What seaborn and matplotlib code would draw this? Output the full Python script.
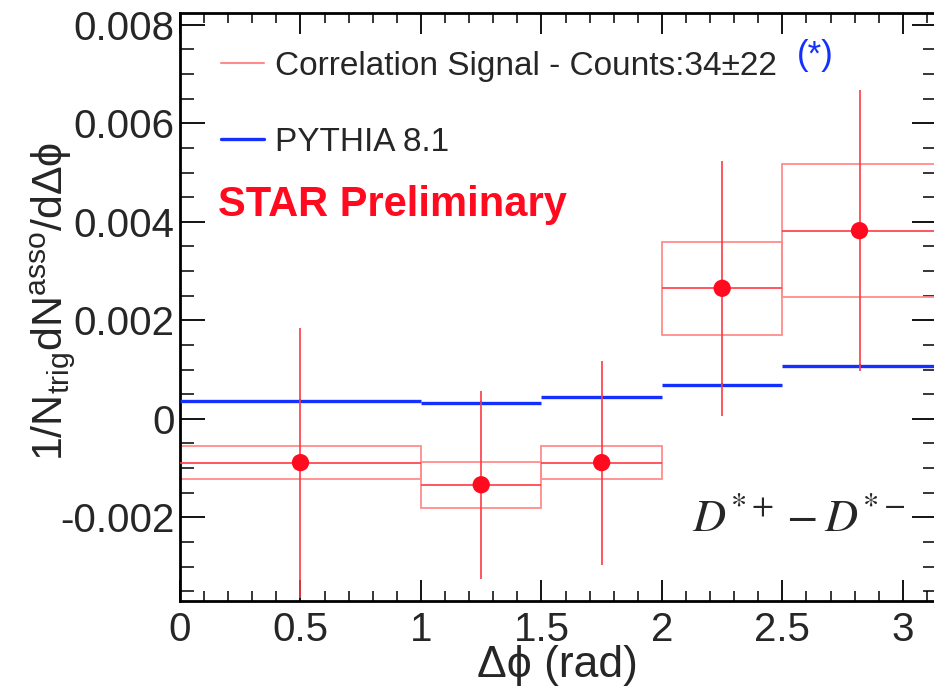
import numpy as np
import matplotlib
matplotlib.use("Agg")
import matplotlib.pyplot as plt
from matplotlib.lines import Line2D
from matplotlib.ticker import MultipleLocator
import seaborn as sns

# ---- data ----
bin_lo = [0.0, 1.0, 1.5, 2.0, 2.5]
bin_hi = [1.0, 1.5, 2.0, 2.5, np.pi]
dphi = [0.5, 1.25, 1.75, 2.25, 2.82]
signal = [-0.00089, -0.00134, -0.00089, 0.00265, 0.00382]
stat_err = [0.00274, 0.00191, 0.00207, 0.00259, 0.00285]
sys_err = [0.00033, 0.00047, 0.00033, 0.00094, 0.00135]
pythia = [0.00037, 0.00033, 0.00044, 0.00069, 0.00107]
pythia_err = [0.00003, 0.00003, 0.00003, 0.00004, 0.00004]

x_ticks = [0, 0.5, 1, 1.5, 2, 2.5, 3]
x_tick_labels = ["0", "0.5", "1", "1.5", "2", "2.5", "3"]
y_ticks = [-0.002, 0, 0.002, 0.004, 0.006, 0.008]
y_tick_labels = ["-0.002", "0", "0.002", "0.004", "0.006", "0.008"]

legend_signal = "Correlation Signal - Counts:34\u00b122"
legend_pythia = "PYTHIA 8.1"

sns.set_theme(style="ticks")
plt.rcParams["font.family"] = ["Liberation Sans", "DejaVu Sans"]
plt.rcParams["mathtext.fontset"] = "custom"
plt.rcParams["mathtext.rm"] = "Liberation Sans"
plt.rcParams["mathtext.it"] = "Liberation Sans:italic"

RED = "#ff0a1e"
RED_LINE = "#ff3a45"
BOX = "#ff8c8c"
BLUE = "#1430ff"

fig = plt.figure(figsize=(9.34, 6.88), dpi=100)
ax = fig.add_axes([180 / 934, (688 - 601) / 688, (937 - 180) / 934, (601 - 13) / 688])

lo = np.array(bin_lo)
hi = np.array(bin_hi)
xc = np.array(dphi)
ys = np.array(signal)
sy = np.array(sys_err)

# systematic boxes
ax.bar(lo, 2 * sy, width=hi - lo, bottom=ys - sy, align="edge",
       fill=False, edgecolor=BOX, linewidth=1.3, zorder=2)

# PYTHIA histogram
ax.hlines(pythia, lo, hi, color=BLUE, linewidth=2.4, zorder=3)
ax.errorbar(xc, pythia, yerr=pythia_err, fmt="none", ecolor=BLUE, elinewidth=1.2, zorder=3)

# statistical error bars (with bin width)
ax.errorbar(xc, ys, yerr=stat_err, xerr=[xc - lo, hi - xc], fmt="none",
            ecolor=RED_LINE, elinewidth=1.2, capsize=0, zorder=4)
sns.scatterplot(x=dphi, y=signal, ax=ax, color=RED, s=155, edgecolor="none",
                linewidth=0, zorder=5, legend=False)

ax.set_xlim(0, np.pi)
ax.set_ylim(-0.0037, 0.00824)

ax.set_xticks(x_ticks)
ax.set_xticklabels(x_tick_labels)
ax.set_yticks(y_ticks)
ax.set_yticklabels(y_tick_labels)
ax.xaxis.set_minor_locator(MultipleLocator(0.1))
ax.yaxis.set_minor_locator(MultipleLocator(0.0005))

ax.tick_params(axis="x", which="major", direction="in", length=15, width=1.3,
               top=True, labelsize=29, pad=7, color="black")
ax.tick_params(axis="x", which="minor", direction="in", length=7.5, width=1.1,
               top=True, color="black")
ax.tick_params(axis="y", which="major", direction="in", length=18, width=1.3,
               right=True, labelsize=29, pad=4, color="black")
ax.tick_params(axis="y", which="minor", direction="in", length=10, width=1.1,
               right=True, color="black")
for s in ax.spines.values():
    s.set_linewidth(2.0)
    s.set_color("black")

ax.set_xlabel("\u0394\u03d5 (rad)", fontsize=32)
ax.xaxis.set_label_coords((557 - 180) / 757, (601 - 645) / 588)
ax.set_ylabel("1/N$_{\\rm trig}$dN$^{\\rm asso}$/d\u0394\u03d5", fontsize=31)
ax.yaxis.set_label_coords(-0.136, 0.51)

handles = [Line2D([], [], color=BOX, linewidth=1.5),
           Line2D([], [], color=BLUE, linewidth=2.4)]
leg = ax.legend(handles, [legend_signal, legend_pythia], loc="upper left",
                bbox_to_anchor=(0.037, 0.958), frameon=False, fontsize=24,
                handlelength=1.28, handletextpad=0.33, labelspacing=1.35,
                borderaxespad=0)

ax.text((797 - 180) / 757, (601 - 56) / 588, "(*)", transform=ax.transAxes,
        color=BLUE, fontsize=25, ha="left", va="center")
ax.text((218 - 180) / 757, (601 - 205) / 588, "STAR Preliminary", transform=ax.transAxes,
        color=RED, fontsize=30, fontweight="bold", ha="left", va="center")
ax.text((905 - 180) / 757, (601 - 520) / 588, r"$D^{*+}-D^{*-}$", transform=ax.transAxes,
        fontsize=33, ha="right", va="center", math_fontfamily="stix")

fig.savefig("out.png", dpi=100, facecolor="white")
